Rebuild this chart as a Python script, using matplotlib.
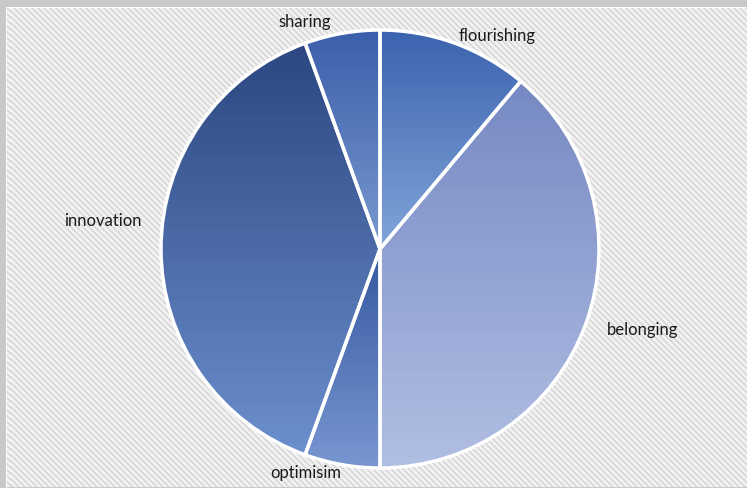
import numpy as np
import matplotlib.pyplot as plt
from matplotlib.colors import LinearSegmentedColormap

labels = ['flourishing', 'belonging', 'optimisim', 'innovation', 'sharing']
values = [2, 7, 1, 7, 1]

# top / bottom colours of each slice's vertical gradient
top_colors = ['#3a62ae', '#7688c2', '#33569f', '#2b4680', '#3a5eaa']
bottom_colors = ['#80a4d9', '#b0bee3', '#7896d1', '#6b8ecd', '#7898cf']

W, H = 747, 488
fig = plt.figure(figsize=(W / 100, H / 100), dpi=100)
fig.patch.set_facecolor('#c9c9c9')

# striped plot area background
bg = fig.add_axes([6 / W, 0, 1 - 6 / W, 1 - 7 / H])
bg.set_axis_off()
yy, xx = np.mgrid[0:H - 7, 0:W - 6]
phase = ((xx - yy) % 6) / 6.0
stripes = 0.965 - 0.12 * (0.5 + 0.5 * np.cos(2 * np.pi * phase))
bg.imshow(stripes, cmap='gray', vmin=0, vmax=1, aspect='auto',
          interpolation='nearest')
bg.plot([0, W - 7], [0, 0], color='white', lw=1.2)
bg.plot([0, 0], [0, H - 7], color='white', lw=1.2)
bg.set_xlim(0, W - 6)
bg.set_ylim(H - 7, 0)

# pie axes
r_px = 219
cx, cy = 380, 249
ax = fig.add_axes([(cx - r_px) / W, (H - cy - r_px) / H, 2 * r_px / W, 2 * r_px / H])
ax.set_axis_off()
wedges, texts = ax.pie(values, startangle=90, counterclock=False,
                       wedgeprops=dict(facecolor='none', edgecolor='white',
                                       linewidth=2.5, zorder=3))

for w, c0, c1 in zip(wedges, top_colors, bottom_colors):
    verts = w.get_path().transformed(w.get_patch_transform()).vertices
    x0, x1 = verts[:, 0].min(), verts[:, 0].max()
    y0, y1 = verts[:, 1].min(), verts[:, 1].max()
    cmap = LinearSegmentedColormap.from_list('g', [c1, c0])
    # banded gradient, a few dozen steps
    grad = np.floor(np.linspace(0, 1, 400) * 40) / 40
    img = ax.imshow(grad[:, None], cmap=cmap, vmin=0, vmax=1,
                    extent=[x0, x1, y0, y1], origin='lower', aspect='auto',
                    zorder=2)
    img.set_clip_path(w)
ax.set_xlim(-1, 1)
ax.set_ylim(-1, 1)

# outside labels
label_pos = {'flourishing': (497, 36), 'belonging': (643, 330),
             'optimisim': (306, 473), 'innovation': (103, 221),
             'sharing': (305, 22)}
for name in labels:
    px, py = label_pos[name]
    fig.text(px / W, 1 - py / H, name, ha='center', va='center',
             fontsize=12, family='Lato', color='#1a1a1a')

fig.savefig('out.png', dpi=100)
